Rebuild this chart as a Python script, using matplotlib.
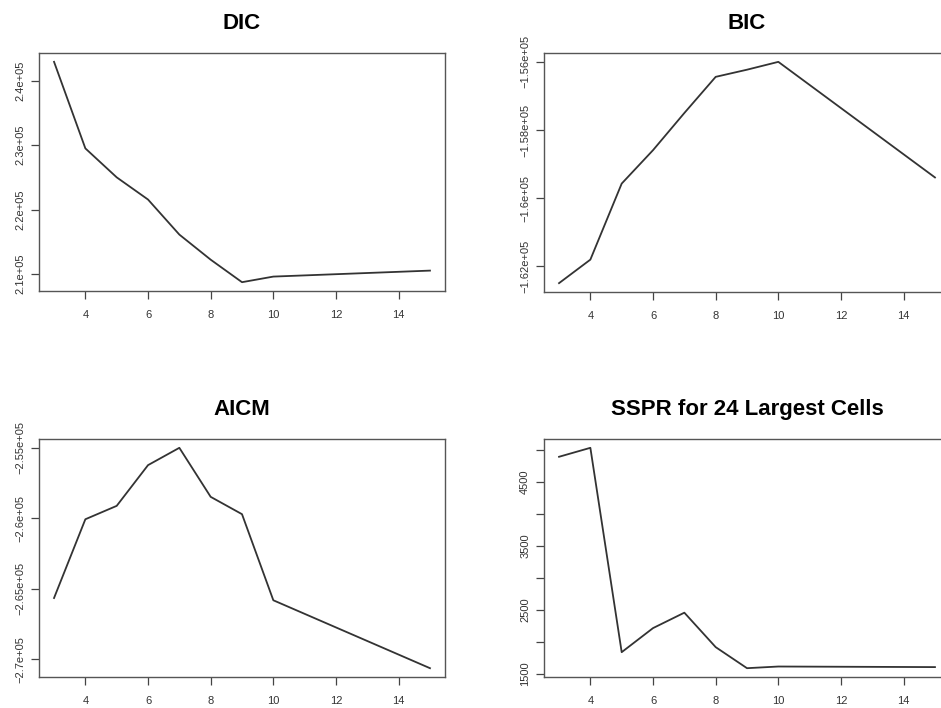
import matplotlib
matplotlib.use("Agg")
import matplotlib.pyplot as plt

plt.rcParams['font.family'] = ['Liberation Sans', 'DejaVu Sans']

# number of clusters
k = [3, 4, 5, 6, 7, 8, 9, 10, 15]

dic = [242960, 229500, 225000, 221550, 216100, 212200, 208700, 209570, 210500]
bic = [-162490, -161800, -159570, -158590, -157500, -156440, -156230, -156000, -159390]
aicm = [-265660, -260070, -259120, -256230, -255000, -258480, -259710, -265820, -270640]
sspr = [4890, 5030, 1838, 2214, 2455, 1917, 1588, 1614, 1605]

titles = ["DIC", "BIC", "AICM", "SSPR for 24 Largest Cells"]

xticks = [4, 6, 8, 10, 12, 14]
dic_ticks = [210000, 220000, 230000, 240000]
dic_labels = ["2.1e+05", "2.2e+05", "2.3e+05", "2.4e+05"]
bic_ticks = [-162000, -160000, -158000, -156000]
bic_labels = ["\u22121.62e+05", "\u22121.6e+05", "\u22121.58e+05", "\u22121.56e+05"]
aicm_ticks = [-270000, -265000, -260000, -255000]
aicm_labels = ["\u22122.7e+05", "\u22122.65e+05", "\u22122.6e+05", "\u22122.55e+05"]
sspr_ticks = [1500, 2000, 2500, 3000, 3500, 4000, 4500, 5000]
sspr_labels = ["1500", "", "2500", "", "3500", "", "4500", ""]

W, H = 941, 708
fig = plt.figure(figsize=(W / 100, H / 100), dpi=100)

# panel boxes in pixels: left, top, right, bottom (right column runs off the image)
boxes = [(39, 53, 445, 291), (544, 53, 950, 292),
         (39, 439, 445, 677), (544, 439, 950, 677)]
series = [dic, bic, aicm, sspr]
yt = [dic_ticks, bic_ticks, aicm_ticks, sspr_ticks]
yl = [dic_labels, bic_labels, aicm_labels, sspr_labels]

for (l, t, r, b), vals, title, ticks, labels in zip(boxes, series, titles, yt, yl):
    ax = fig.add_axes([l / W, 1 - b / H, (r - l) / W, (b - t) / H])
    ax.plot(k, vals, color='#333333', lw=1.3)
    ax.margins(0.04)
    ax.set_xticks(xticks)
    ax.set_yticks(ticks)
    ax.set_yticklabels(labels, rotation=90, va='center')
    ax.tick_params(direction='out', length=6, width=0.9, colors='#444444',
                   labelsize=8, labelcolor='#333333')
    ax.tick_params(axis='x', pad=8)
    ax.tick_params(axis='y', pad=4)
    for s in ax.spines.values():
        s.set_color('#555555')
        s.set_linewidth(1.0)
    ax.set_title(title, fontsize=16, fontweight='bold', pad=17)

fig.savefig("out.png", dpi=100)
